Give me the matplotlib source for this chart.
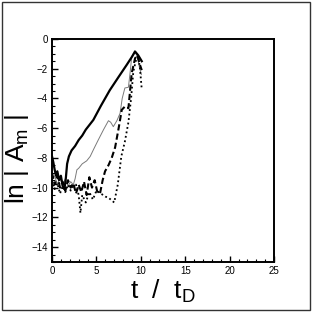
import matplotlib
matplotlib.use("Agg")
import matplotlib.pyplot as plt
from matplotlib.ticker import MultipleLocator
from matplotlib.patches import Rectangle

plt.rcParams['font.family'] = ['Liberation Sans', 'DejaVu Sans']
plt.rcParams['mathtext.fontset'] = 'custom'
plt.rcParams['mathtext.rm'] = 'Liberation Sans'
plt.rcParams['mathtext.it'] = 'Liberation Sans'

# thick solid
t_solid = [0.0, 0.15, 0.3, 0.45, 0.6, 0.8, 1.0, 1.2, 1.4, 1.55, 1.7, 1.9, 2.2, 2.6, 3.0, 3.4, 3.8, 4.65, 5.5, 6.5, 7.5, 8.4, 9.0, 9.35, 9.7, 10.1]
v_solid = [-7.9, -8.3, -8.8, -9.2, -8.9, -9.5, -9.2, -9.9, -10.1, -9.4, -8.4, -7.9, -7.5, -7.2, -6.8, -6.5, -6.1, -5.45, -4.5, -3.45, -2.55, -1.75, -1.2, -0.85, -1.1, -1.5]

# thin grey solid
t_grey = [0.0, 0.3, 0.6, 0.9, 1.2, 1.5, 1.8, 2.1, 2.4, 2.6, 2.8, 3.0, 3.4, 3.9, 4.3, 4.7, 5.2, 5.8, 6.35, 6.6, 6.9, 7.3, 7.66, 7.9, 8.2, 8.6, 8.8, 8.97, 9.3, 9.6, 9.8, 10.05]
v_grey = [-9.5, -9.2, -9.8, -9.3, -9.9, -9.4, -9.9, -9.6, -9.8, -9.4, -8.8, -8.7, -8.4, -8.2, -7.9, -7.4, -6.8, -6.1, -5.5, -5.6, -5.9, -5.5, -5.0, -4.0, -3.3, -3.25, -2.2, -1.2, -0.8, -1.2, -1.8, -2.4]

# thick dashed
t_dash = [0.0, 0.3, 0.6, 0.9, 1.2, 1.5, 1.8, 2.1, 2.4, 2.7, 3.0, 3.3, 3.6, 3.9, 4.2, 4.5, 4.8, 5.1, 5.4, 5.7, 5.97, 6.35, 6.72, 7.1, 7.5, 7.85, 8.2, 8.6, 8.97, 9.35, 9.6, 9.9, 10.1]
v_dash = [-9.0, -9.8, -9.2, -10.0, -9.6, -10.2, -9.5, -10.0, -9.7, -10.4, -9.8, -10.3, -9.6, -10.5, -9.3, -10.0, -9.5, -10.3, -10.4, -9.5, -8.9, -8.5, -8.0, -7.3, -6.0, -4.77, -4.55, -4.66, -2.3, -1.3, -1.1, -1.75, -2.1]

# dotted
t_dot = [0.0, 0.3, 0.6, 0.9, 1.2, 1.5, 1.8, 2.1, 2.4, 2.7, 3.0, 3.2, 3.4, 3.8, 4.2, 4.6, 5.0, 5.5, 6.0, 6.4, 6.8, 7.0, 7.4, 7.8, 8.2, 8.6, 8.9, 9.15, 9.5, 9.7, 9.9, 10.1]
v_dot = [-9.5, -10.1, -9.7, -10.4, -9.9, -10.3, -9.8, -10.2, -9.9, -9.8, -10.5, -11.7, -10.5, -11.0, -10.3, -10.8, -10.2, -10.4, -10.6, -10.7, -10.9, -11.0, -9.8, -7.9, -6.9, -5.6, -4.0, -2.2, -1.3, -1.15, -2.0, -3.4]

xticks = [0, 5, 10, 15, 20, 25]
yticks = [0, -2, -4, -6, -8, -10, -12, -14]

fig = plt.figure(figsize=(3.12, 3.12), dpi=100)
fig.patches.append(Rectangle((0.008, 0.008), 0.984, 0.984, transform=fig.transFigure,
                             fill=False, edgecolor='#333333', linewidth=1.0))
ax = fig.add_axes([0.1667, 0.1603, 0.712, 0.715])

ax.plot(t_grey, v_grey, color='#7a7a7a', linewidth=0.7)
ax.plot(t_dot, v_dot, color='black', linewidth=1.3, linestyle=(0, (1, 1.5)))
ax.plot(t_dash, v_dash, color='black', linewidth=1.5, linestyle=(0, (3, 1.5)))
ax.plot(t_solid, v_solid, color='black', linewidth=1.6)

ax.set_xlim(0, 25)
ax.set_ylim(-15, 0)
ax.set_xticks(xticks)
ax.set_yticks(yticks)
ax.xaxis.set_minor_locator(MultipleLocator(1))
ax.yaxis.set_minor_locator(MultipleLocator(0.5))
ax.tick_params(which='both', direction='in', top=False, right=False, labelsize=7, pad=3)
ax.tick_params(which='major', length=4, width=1.0)
ax.tick_params(which='minor', length=2.2, width=0.8)
for s in ax.spines.values():
    s.set_linewidth(1.4)

ax.set_xlabel(r't  /  t$_\mathrm{D}$', fontsize=19, labelpad=1)
ax.set_ylabel(r'ln | A$_\mathrm{m}$ |', fontsize=19)
ax.yaxis.set_label_coords(-0.095, 0.46)

fig.savefig('out.png', dpi=100)
